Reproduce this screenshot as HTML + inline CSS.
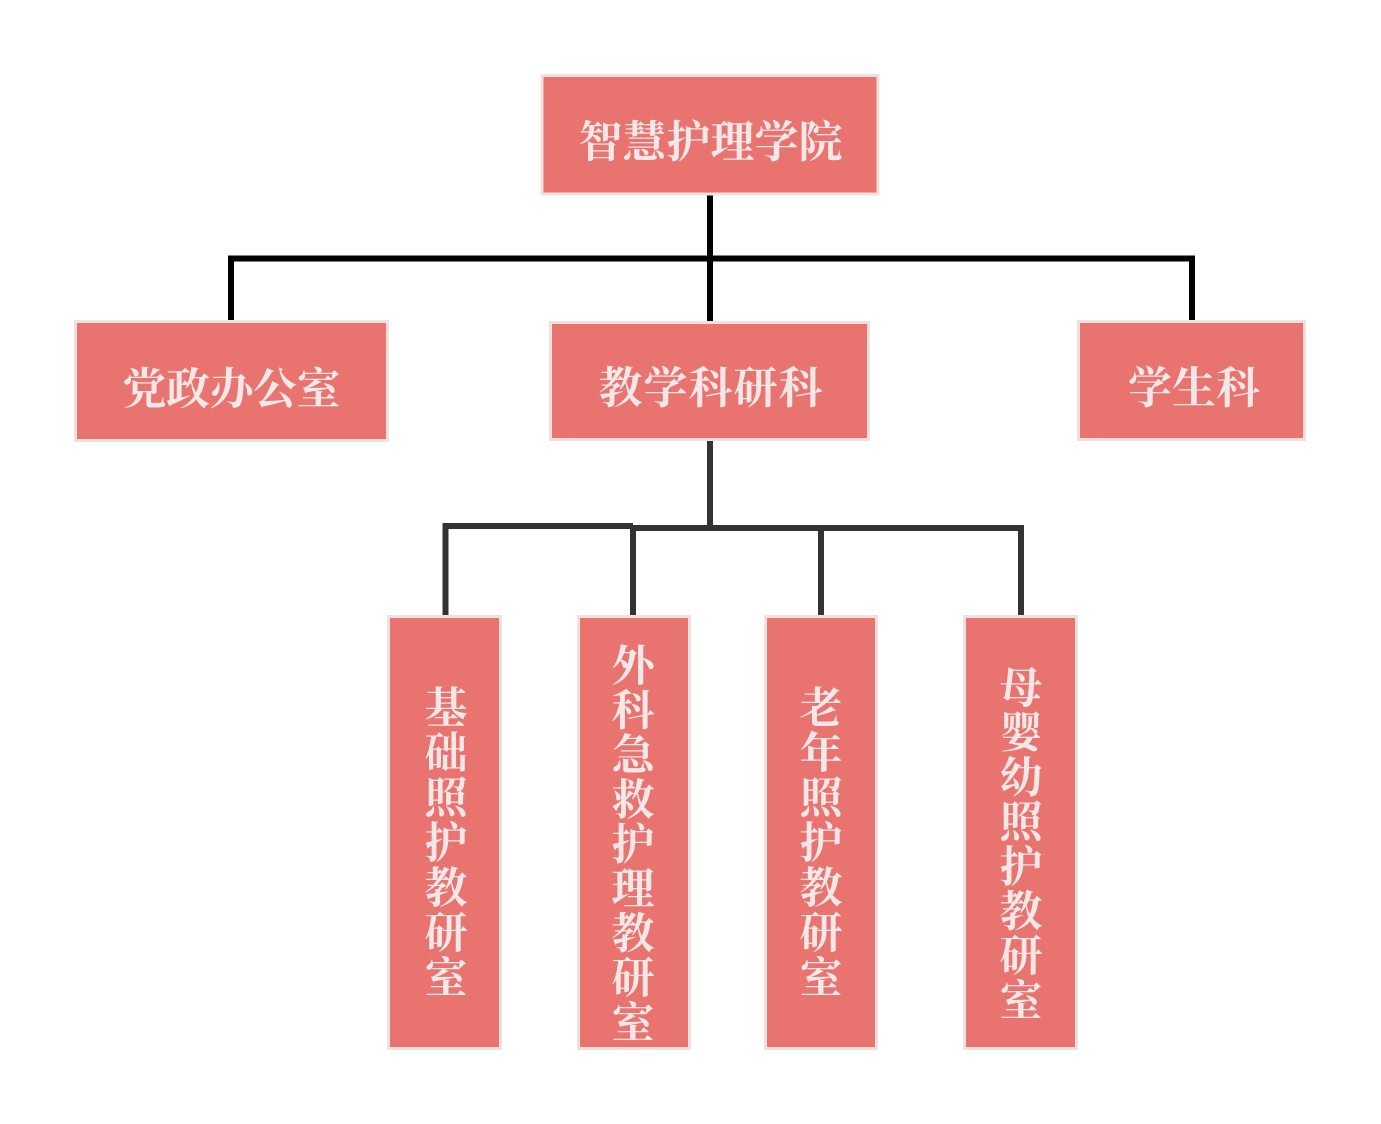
<!DOCTYPE html>
<html>
<head>
<meta charset="utf-8">
<style>
html,body{margin:0;padding:0;background:#fff;}
svg{display:block;}
text{font-family:"Liberation Serif","Noto Serif CJK SC","Noto Sans CJK SC",serif;font-weight:700;fill:#F3E7E7;text-anchor:middle;}
</style>
</head>
<body>
<svg width="1381" height="1124" viewBox="0 0 1381 1124" xmlns="http://www.w3.org/2000/svg">
<rect width="1381" height="1124" fill="#fff"/>
<!-- connectors top level -->
<g stroke="#000" stroke-width="6" fill="none">
<line x1="710" y1="195" x2="710" y2="321"/>
<polyline points="231,320 231,258.5 1192,258.5 1192,320"/>
</g>
<!-- connectors lower -->
<g stroke="#333" stroke-width="6" fill="none">
<line x1="710" y1="441" x2="710" y2="531"/>
<polyline points="445.5,615 445.5,526 633,526"/>
<polyline points="633,615 633,528 1021,528 1021,615"/>
<line x1="821" y1="528" x2="821" y2="615"/>
</g>
<!-- boxes -->
<g fill="#E8736F" stroke="#F2E0E0" stroke-width="3">
<rect x="542" y="75.5" width="336" height="118.5"/>
<rect x="75.5" y="321.5" width="312" height="119"/>
<rect x="550.5" y="322.5" width="318" height="117"/>
<rect x="1078.5" y="321.5" width="226" height="118"/>
<rect x="388.5" y="616.5" width="112" height="432"/>
<rect x="578.5" y="616.5" width="111" height="432"/>
<rect x="765.5" y="616.5" width="111" height="432"/>
<rect x="964.5" y="616.5" width="112" height="432"/>
</g>
<!-- top title -->
<g font-size="44">
<text x="600.5" y="157">智</text>
<text x="644.5" y="157">慧</text>
<text x="688.5" y="157">护</text>
<text x="732.5" y="157">理</text>
<text x="776.5" y="157">学</text>
<text x="820.5" y="157">院</text>
</g>
<!-- level 2 -->
<g font-size="44">
<text x="144.5" y="404">党</text>
<text x="188" y="404">政</text>
<text x="231.5" y="404">办</text>
<text x="275" y="404">公</text>
<text x="318.5" y="404">室</text>

<text x="620.5" y="403">教</text>
<text x="665.5" y="403">学</text>
<text x="710.5" y="403">科</text>
<text x="755.5" y="403">研</text>
<text x="800.5" y="403">科</text>

<text x="1150" y="403">学</text>
<text x="1194" y="403">生</text>
<text x="1238" y="403">科</text>
</g>
<!-- vertical labels -->
<g font-size="43">
<text x="446" y="723">基</text>
<text x="446" y="768">础</text>
<text x="446" y="813">照</text>
<text x="446" y="858">护</text>
<text x="446" y="903">教</text>
<text x="446" y="948">研</text>
<text x="446" y="993">室</text>

<text x="633" y="681">外</text>
<text x="633" y="725.6">科</text>
<text x="633" y="770.2">急</text>
<text x="633" y="814.8">救</text>
<text x="633" y="859.4">护</text>
<text x="633" y="904">理</text>
<text x="633" y="948.6">教</text>
<text x="633" y="993.2">研</text>
<text x="633" y="1037.8">室</text>

<text x="821" y="723">老</text>
<text x="821" y="768">年</text>
<text x="821" y="813">照</text>
<text x="821" y="858">护</text>
<text x="821" y="903">教</text>
<text x="821" y="948">研</text>
<text x="821" y="993">室</text>

<text x="1021" y="703">母</text>
<text x="1021" y="747.7">婴</text>
<text x="1021" y="792.4">幼</text>
<text x="1021" y="837.1">照</text>
<text x="1021" y="881.8">护</text>
<text x="1021" y="926.5">教</text>
<text x="1021" y="971.2">研</text>
<text x="1021" y="1015.9">室</text>
</g>
</svg>
</body>
</html>
